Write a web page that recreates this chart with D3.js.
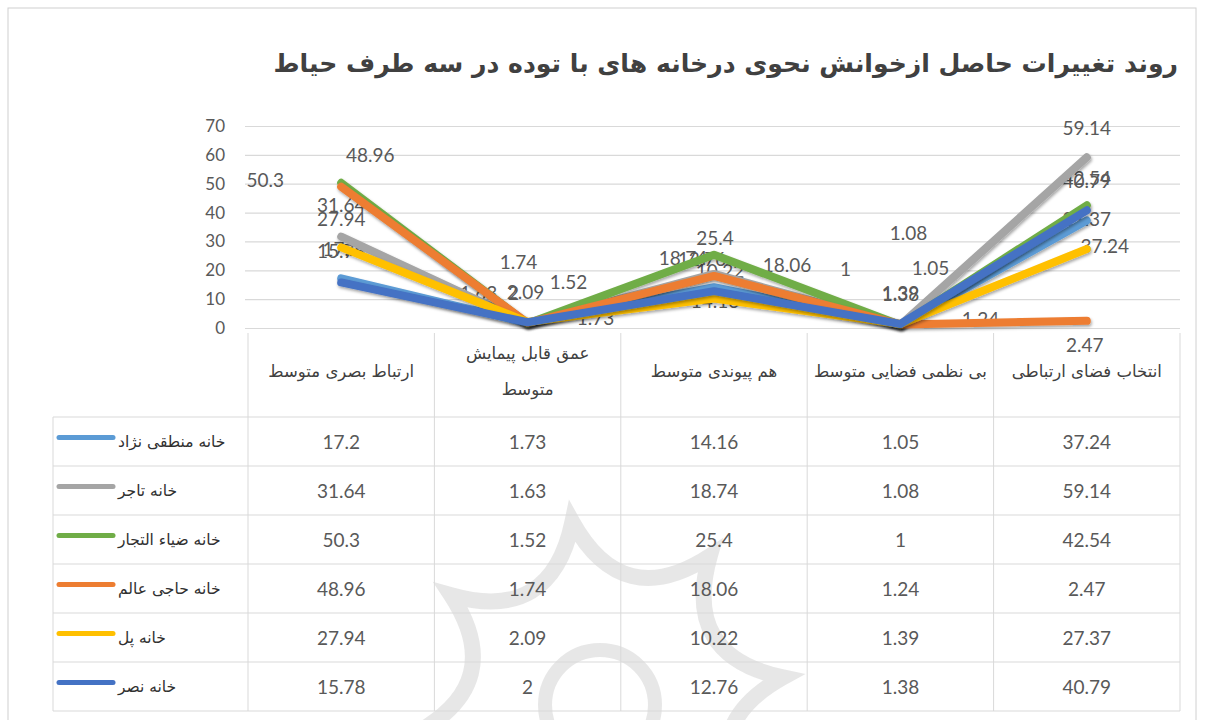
<!DOCTYPE html>
<html>
<head>
<meta charset="utf-8">
<script src="https://cdn.jsdelivr.net/npm/d3@7"></script>
<style>
  body { margin: 0; background: #fff; }
  svg { display: block; }
</style>
</head>
<body>
<div class="svg"></div>
<script>
const width = 1206
const height = 720

// Data
const title = 'روند تغییرات حاصل ازخوانش نحوی درخانه های با توده در سه طرف حیاط'
const categories = [
  'ارتباط بصری متوسط',
  'عمق قابل پیمایش متوسط',
  'هم پیوندی متوسط',
  'بی نظمی فضایی متوسط',
  'انتخاب فضای ارتباطی'
]
const categoryLines = [
  ['ارتباط بصری متوسط'],
  ['عمق قابل پیمایش', 'متوسط'],
  ['هم پیوندی متوسط'],
  ['بی نظمی فضایی متوسط'],
  ['انتخاب فضای ارتباطی']
]
const yTicks = [0, 10, 20, 30, 40, 50, 60, 70]
const seriesNames = [
  'خانه منطقی نژاد',
  'خانه تاجر',
  'خانه ضیاء التجار',
  'خانه حاجی عالم',
  'خانه پل',
  'خانه نصر'
]
const mantaghiNejad = [17.2, 1.73, 14.16, 1.05, 37.24]
const tajer = [31.64, 1.63, 18.74, 1.08, 59.14]
const ziaTojar = [50.3, 1.52, 25.4, 1, 42.54]
const hajiAlem = [48.96, 1.74, 18.06, 1.24, 2.47]
const pol = [27.94, 2.09, 10.22, 1.39, 27.37]
const nasr = [15.78, 2, 12.76, 1.38, 40.79]
const allSeries = [mantaghiNejad, tajer, ziaTojar, hajiAlem, pol, nasr]

// Styles / layout
const colors = ['#5b9bd5', '#a5a5a5', '#70ad47', '#ed7d31', '#ffc000', '#4472c4']
// label offsets from their point (dx, dy) as they sit in the original chart
const labelShift = [
  [[0, -30], [68, -6], [1, 13], [30, -57], [18, 25]],
  [[0, -32], [-49, -31], [-31, -16], [8, -92], [0, -30]],
  [[-76, -3], [41, -42], [1, -17], [-55, -57], [0, -28]],
  [[29, -32], [-9, -61], [73, -11], [80, -6], [-2, 24]],
  [[0, -29], [-2, -30], [6, -28], [0, -31], [0, -31]],
  [[0, -32], [-14, -30], [-12, -33], [0, -31], [0, -30]]
]
const numFont = 'Lato, Carlito, Calibri, sans-serif'
const faFont = '"DejaVu Sans", sans-serif'
const gridColor = '#d9d9d9'
const textGray = '#595959'

const tableLeft = 53
const plotLeft = 248
const plotRight = 1180
const headerTop = 333
const headerBottom = 417
const tableBottom = 711

const svg = d3
  .select('.svg')
  .append('svg')
  .attr('width', width)
  .attr('height', height)

const defs = svg.append('defs')
const shadow = defs.append('filter').attr('id', 'shadow')
  .attr('x', '-10%').attr('y', '-10%').attr('width', '120%').attr('height', '130%')
shadow.append('feDropShadow')
  .attr('dx', 1).attr('dy', 2).attr('stdDeviation', 1.8)
  .attr('flood-color', '#000').attr('flood-opacity', 0.35)

// chart frame
svg.append('rect')
  .attr('x', 8).attr('y', 8)
  .attr('width', 1188).attr('height', 730)
  .attr('fill', '#fff')
  .attr('stroke', '#d0d0d0')

// watermark (faint logo behind the table)
const star = []
const cx = 600, cy = 705, rOut = 185, rIn = 95, n = 8
for (let k = 0; k < n; k++) {
  const a0 = -Math.PI / 2 - 0.15 + (k * 2 * Math.PI) / n
  const a1 = a0 + Math.PI / n
  const a2 = a0 + (2 * Math.PI) / n
  star.push({ m: [cx + rIn * Math.cos(a1), cy + rIn * Math.sin(a1)], e: [cx + rOut * Math.cos(a2), cy + rOut * Math.sin(a2)], o: [cx + rOut * Math.cos(a0), cy + rOut * Math.sin(a0)] })
}
let starPath = 'M' + star[0].o.join(',')
star.forEach(s => { starPath += 'Q' + s.m.join(',') + ' ' + s.e.join(',') })
svg.append('path')
  .attr('d', starPath + 'Z')
  .attr('fill', 'none')
  .attr('stroke', '#c9c9c9')
  .attr('stroke-width', 16)
  .attr('opacity', 0.45)
svg.append('circle')
  .attr('cx', cx).attr('cy', cy).attr('r', 55)
  .attr('fill', 'none')
  .attr('stroke', '#c9c9c9')
  .attr('stroke-width', 14)
  .attr('opacity', 0.45)

// Scales
const xScale = d3.scaleBand().domain(categories).range([plotLeft, plotRight])
const xc = c => xScale(c) + xScale.bandwidth() / 2
const yScale = d3.scaleLinear().domain([0, 70]).range([328, 126])
const rowScale = d3.scaleBand().domain(seriesNames).range([headerBottom, tableBottom])

// Title
const titleText = svg.append('text')
  .attr('x', 1178)
  .attr('y', 72)
  .attr('text-anchor', 'end')
  .attr('font-family', faFont)
  .attr('font-weight', 'bold')
  .attr('font-size', 26)
  .attr('fill', '#404040')
  .text(title)
const tw = titleText.node().getComputedTextLength()
titleText.attr('font-size', 26 * 905 / tw)

// Y axis with gridlines
const yAxis = d3.axisLeft(yScale)
  .tickValues(yTicks)
  .tickSize(-(plotRight - 245))
  .tickPadding(20)
const yg = svg.append('g')
  .attr('transform', 'translate(245,0)')
  .call(yAxis)
yg.select('.domain').remove()
yg.selectAll('.tick line').attr('stroke', gridColor).attr('stroke-width', 1.2)
yg.selectAll('.tick text')
  .attr('font-family', numFont)
  .attr('font-size', 17)
  .attr('fill', textGray)

// Table grid
const colEdges = categories.map(c => xScale(c)).concat([plotRight])
svg.append('g').selectAll('line')
  .data(colEdges)
  .join('line')
  .attr('x1', d => d).attr('x2', d => d)
  .attr('y1', headerTop).attr('y2', tableBottom)
  .attr('stroke', gridColor)
svg.append('line')
  .attr('x1', tableLeft).attr('x2', tableLeft)
  .attr('y1', headerBottom).attr('y2', tableBottom)
  .attr('stroke', gridColor)
const rowEdges = seriesNames.map(s => rowScale(s)).concat([tableBottom])
svg.append('g').selectAll('line')
  .data(rowEdges)
  .join('line')
  .attr('x1', tableLeft).attr('x2', plotRight)
  .attr('y1', d => d).attr('y2', d => d)
  .attr('stroke', gridColor)

// Category header labels
categoryLines.forEach((lines, j) => {
  const mid = (headerTop + headerBottom) / 2 - 4
  lines.forEach((line, k) => {
    svg.append('text')
      .attr('x', xc(categories[j]))
      .attr('y', mid + (k - (lines.length - 1) / 2) * 36)
      .attr('text-anchor', 'middle')
      .attr('dominant-baseline', 'central')
      .attr('font-family', faFont)
      .attr('font-size', 16.5)
      .attr('fill', '#404040')
      .text(line)
  })
})

// Table rows: legend key, name and values
seriesNames.forEach((name, i) => {
  const rc = rowScale(name) + rowScale.bandwidth() / 2
  svg.append('line')
    .attr('x1', 59).attr('x2', 113)
    .attr('y1', rc - 4).attr('y2', rc - 4)
    .attr('stroke', colors[i])
    .attr('stroke-width', 5)
    .attr('stroke-linecap', 'round')
  svg.append('text')
    .attr('x', 118)
    .attr('y', rc)
    .attr('text-anchor', 'start')
    .attr('dominant-baseline', 'central')
    .attr('font-family', faFont)
    .attr('font-size', 15.5)
    .attr('fill', '#303030')
    .text(name)
  svg.append('g').selectAll('text')
    .data(allSeries[i])
    .join('text')
    .attr('x', (d, j) => xc(categories[j]))
    .attr('y', rc)
    .attr('text-anchor', 'middle')
    .attr('dominant-baseline', 'central')
    .attr('font-family', numFont)
    .attr('font-size', 19)
    .attr('fill', textGray)
    .text(d => d)
})

// Data labels (sit under the lines, as in the original)
allSeries.forEach((vals, i) => {
  svg.append('g').selectAll('text')
    .data(vals)
    .join('text')
    .attr('x', (d, j) => xc(categories[j]) + labelShift[i][j][0])
    .attr('y', (d, j) => yScale(d) + labelShift[i][j][1])
    .attr('text-anchor', 'middle')
    .attr('dominant-baseline', 'central')
    .attr('font-family', numFont)
    .attr('font-size', 19)
    .attr('fill', textGray)
    .text(d => d)
})

// Lines
const line = d3.line()
  .x((d, j) => xc(categories[j]))
  .y(d => yScale(d))
allSeries.forEach((vals, i) => {
  svg.append('path')
    .datum(vals)
    .attr('d', line)
    .attr('fill', 'none')
    .attr('stroke', colors[i])
    .attr('stroke-width', 8)
    .attr('stroke-linejoin', 'round')
    .attr('stroke-linecap', 'round')
    .attr('filter', 'url(#shadow)')
})
</script>
</body>
</html>
